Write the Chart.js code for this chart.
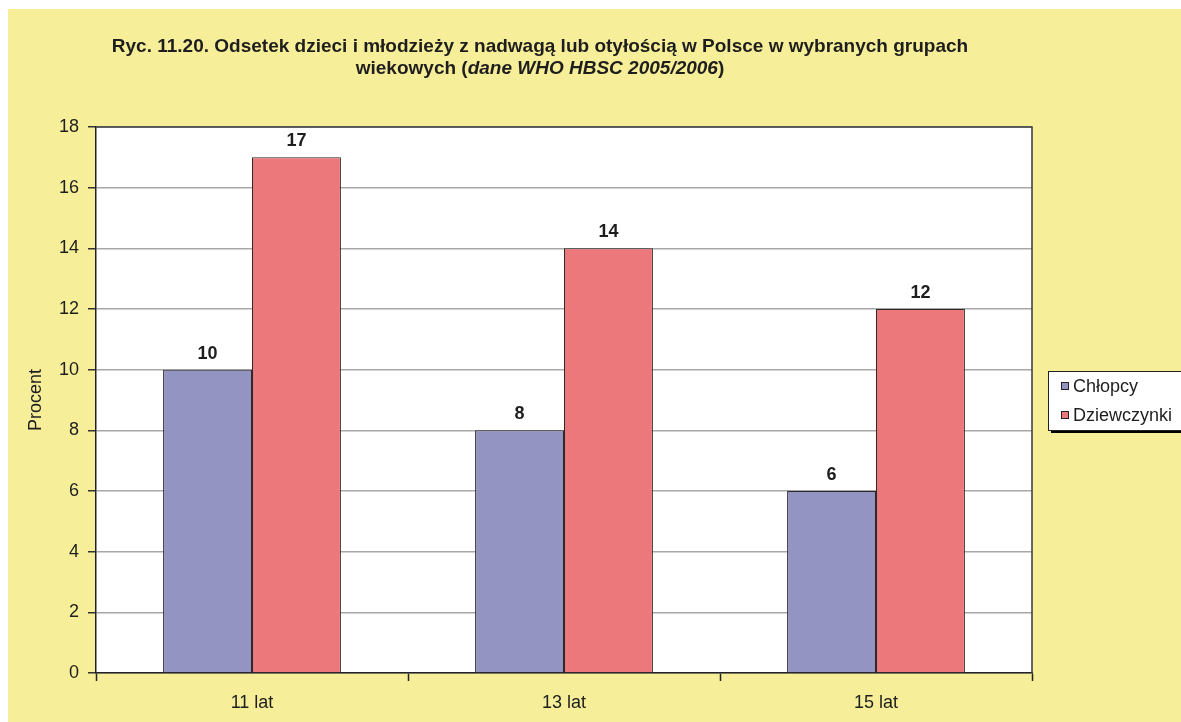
<!DOCTYPE html>
<html>
<head>
<meta charset="utf-8">
<script src="https://cdn.jsdelivr.net/npm/chart.js@4.4.1/dist/chart.umd.min.js"></script>
<style>
  html, body { margin: 0; padding: 0; background: #ffffff; }
  #wrap { width: 1181px; height: 722px; position: relative; }
</style>
</head>
<body>
<div id="wrap"><canvas id="c" width="1181" height="722"></canvas></div>
<script>
const categories = ['11 lat', '13 lat', '15 lat'];
const seriesNames = ['Chłopcy', 'Dziewczynki'];
const boys = [10, 8, 6];
const girls = [17, 14, 12];
const yTicks = [0, 2, 4, 6, 8, 10, 12, 14, 16, 18];

const FONT = '"Liberation Sans", Arial, sans-serif';
const TEXT = '#1e1e1e';
const BG = '#F6EE98';

// yellow page background with a thin white margin at the top-left
const backdrop = {
  id: 'backdrop',
  beforeDraw(chart) {
    const ctx = chart.ctx;
    ctx.save();
    ctx.fillStyle = '#ffffff';
    ctx.fillRect(0, 0, chart.width, chart.height);
    ctx.fillStyle = BG;
    ctx.fillRect(8, 9, chart.width - 8, chart.height - 9);
    const a = chart.chartArea;
    ctx.fillStyle = '#ffffff';
    ctx.fillRect(a.left, a.top, a.right - a.left, a.bottom - a.top);
    ctx.restore();
  }
};

// two-line heading, second line partly italic
const heading = {
  id: 'heading',
  afterDraw(chart) {
    const ctx = chart.ctx;
    const cx = 540;
    ctx.save();
    ctx.fillStyle = TEXT;
    ctx.textBaseline = 'alphabetic';
    ctx.textAlign = 'center';
    ctx.font = 'bold 19px ' + FONT;
    ctx.fillText('Ryc. 11.20. Odsetek dzieci i młodzieży z nadwagą lub otyłością w Polsce w wybranych grupach', cx, 52);
    const parts = [
      ['bold 19px ' + FONT, 'wiekowych ('],
      ['italic bold 19px ' + FONT, 'dane WHO HBSC 2005/2006'],
      ['bold 19px ' + FONT, ')']
    ];
    let total = 0;
    parts.forEach(p => { ctx.font = p[0]; total += ctx.measureText(p[1]).width; });
    let x = cx - total / 2;
    ctx.textAlign = 'left';
    parts.forEach(p => {
      ctx.font = p[0];
      ctx.fillText(p[1], x, 74);
      x += ctx.measureText(p[1]).width;
    });
    ctx.restore();
  }
};

// plot frame (top and right edges) and value labels above bars
const frameAndLabels = {
  id: 'frameAndLabels',
  afterDatasetsDraw(chart) {
    const ctx = chart.ctx;
    const a = chart.chartArea;
    ctx.save();
    ctx.strokeStyle = '#3a3a3a';
    ctx.lineWidth = 1.5;
    ctx.beginPath();
    ctx.moveTo(a.left, a.top);
    ctx.lineTo(a.right, a.top);
    ctx.lineTo(a.right, a.bottom);
    ctx.stroke();

    ctx.fillStyle = TEXT;
    ctx.font = 'bold 18px ' + FONT;
    ctx.textAlign = 'center';
    ctx.textBaseline = 'alphabetic';
    chart.data.datasets.forEach((ds, i) => {
      chart.getDatasetMeta(i).data.forEach((bar, j) => {
        ctx.fillText(String(ds.data[j]), bar.x, bar.y - 11);
      });
    });
    ctx.restore();
  }
};

// boxed legend with drop shadow on the right
const boxLegend = {
  id: 'boxLegend',
  afterDraw(chart) {
    const ctx = chart.ctx;
    const x = 1048, y = 371, w = 150, h = 59;
    ctx.save();
    ctx.fillStyle = '#000000';
    ctx.fillRect(x + 3, y + 3, w, h);
    ctx.fillStyle = '#ffffff';
    ctx.fillRect(x, y, w, h);
    ctx.strokeStyle = '#222222';
    ctx.lineWidth = 1;
    ctx.strokeRect(x + 0.5, y + 0.5, w, h);
    ctx.font = '18px ' + FONT;
    ctx.textBaseline = 'middle';
    ctx.textAlign = 'left';
    chart.data.datasets.forEach((ds, i) => {
      const cy = y + 15 + i * 29;
      ctx.fillStyle = ds.backgroundColor;
      ctx.fillRect(1061, cy - 3.5, 7, 7);
      ctx.strokeStyle = '#222222';
      ctx.strokeRect(1061.5, cy - 3.5, 7, 7);
      ctx.fillStyle = TEXT;
      ctx.fillText(ds.label, 1073, cy + 1);
    });
    ctx.restore();
  }
};

new Chart(document.getElementById('c'), {
  type: 'bar',
  data: {
    labels: categories,
    datasets: [
      {
        label: seriesNames[0],
        data: boys,
        backgroundColor: '#9394C2',
        borderColor: '#2a2a2a',
        borderWidth: 1,
        borderSkipped: 'bottom'
      },
      {
        label: seriesNames[1],
        data: girls,
        backgroundColor: '#EC787B',
        borderColor: '#2a2a2a',
        borderWidth: 1,
        borderSkipped: 'bottom'
      }
    ]
  },
  options: {
    responsive: false,
    animation: false,
    devicePixelRatio: 1,
    layout: { padding: { top: 127, right: 149, left: 0, bottom: 0 } },
    datasets: { bar: { categoryPercentage: 0.57, barPercentage: 1.0 } },
    plugins: {
      legend: { display: false },
      title: { display: false },
      tooltip: { enabled: false }
    },
    scales: {
      x: {
        offset: true,
        grid: {
          offset: true,
          drawOnChartArea: false,
          drawTicks: true,
          tickLength: 8,
          tickColor: '#222222',
          tickWidth: 1.5
        },
        border: { display: true, color: '#222222', width: 1.5 },
        ticks: {
          color: TEXT,
          font: { family: FONT, size: 18 },
          padding: 11
        },
        afterFit(scale) { scale.height = 49; }
      },
      y: {
        min: 0,
        max: 18,
        afterBuildTicks(scale) { scale.ticks = yTicks.map(v => ({ value: v })); },
        grid: {
          color: '#a8a8a8',
          lineWidth: 1.5,
          drawTicks: true,
          tickLength: 8,
          tickColor: '#333333',
          tickWidth: 1.5
        },
        border: { display: true, color: '#222222', width: 1.5 },
        ticks: {
          color: TEXT,
          font: { family: FONT, size: 18 },
          padding: 9
        },
        title: {
          display: true,
          text: 'Procent',
          color: TEXT,
          font: { family: FONT, size: 18 },
          padding: { top: 25, bottom: 0 }
        },
        afterFit(scale) { scale.width = 96; }
      }
    }
  },
  plugins: [backdrop, frameAndLabels, heading, boxLegend]
});
</script>
</body>
</html>
